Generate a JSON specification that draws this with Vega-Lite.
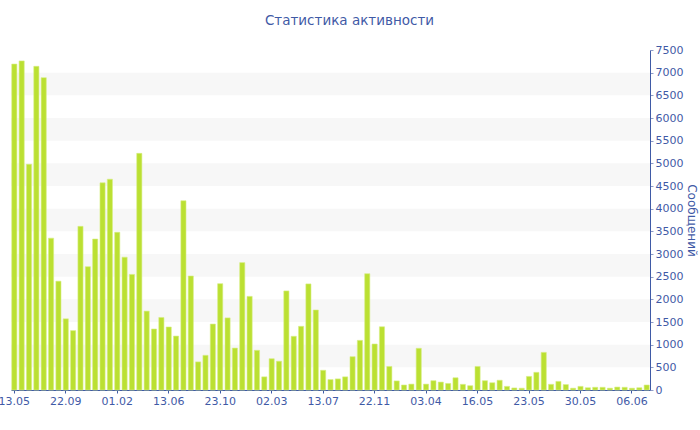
{
  "$schema": "https://vega.github.io/schema/vega-lite/v6.json",
  "width": 639,
  "height": 340,
  "autosize": {"type": "none"},
  "padding": {"left": 11, "top": 50, "right": 50, "bottom": 40},
  "background": "#ffffff",
  "config": {
    "view": {"stroke": null},
    "font": "DejaVu Sans"
  },
  "title": {
    "text": "Статистика активности",
    "font": "DejaVu Sans",
    "fontSize": 13.5,
    "fontWeight": "normal",
    "color": "#3f5aa6",
    "anchor": "middle",
    "dx": 19,
    "offset": 17
  },
  "datasets": {
    "bars": [
      {"i":0,"v":7190},{"i":1,"v":7260},{"i":2,"v":4980},{"i":3,"v":7140},{"i":4,"v":6890},
      {"i":5,"v":3350},{"i":6,"v":2400},{"i":7,"v":1570},{"i":8,"v":1310},{"i":9,"v":3610},
      {"i":10,"v":2720},{"i":11,"v":3330},{"i":12,"v":4570},{"i":13,"v":4650},{"i":14,"v":3480},
      {"i":15,"v":2930},{"i":16,"v":2550},{"i":17,"v":5220},{"i":18,"v":1740},{"i":19,"v":1345},
      {"i":20,"v":1600},{"i":21,"v":1390},{"i":22,"v":1190},{"i":23,"v":4175},{"i":24,"v":2515},
      {"i":25,"v":620},{"i":26,"v":765},{"i":27,"v":1455},{"i":28,"v":2345},{"i":29,"v":1590},
      {"i":30,"v":925},{"i":31,"v":2810},{"i":32,"v":2065},{"i":33,"v":875},{"i":34,"v":290},
      {"i":35,"v":690},{"i":36,"v":635},{"i":37,"v":2185},{"i":38,"v":1185},{"i":39,"v":1405},
      {"i":40,"v":2340},{"i":41,"v":1765},{"i":42,"v":435},{"i":43,"v":230},{"i":44,"v":245},
      {"i":45,"v":290},{"i":46,"v":735},{"i":47,"v":1095},{"i":48,"v":2565},{"i":49,"v":1015},
      {"i":50,"v":1395},{"i":51,"v":520},{"i":52,"v":200},{"i":53,"v":110},{"i":54,"v":130},
      {"i":55,"v":920},{"i":56,"v":130},{"i":57,"v":205},{"i":58,"v":175},{"i":59,"v":145},
      {"i":60,"v":270},{"i":61,"v":125},{"i":62,"v":95},{"i":63,"v":520},{"i":64,"v":205},
      {"i":65,"v":160},{"i":66,"v":215},{"i":67,"v":80},{"i":68,"v":45},{"i":69,"v":40},
      {"i":70,"v":300},{"i":71,"v":390},{"i":72,"v":830},{"i":73,"v":125},{"i":74,"v":190},
      {"i":75,"v":120},{"i":76,"v":40},{"i":77,"v":80},{"i":78,"v":50},{"i":79,"v":60},
      {"i":80,"v":60},{"i":81,"v":40},{"i":82,"v":65},{"i":83,"v":60},{"i":84,"v":40},
      {"i":85,"v":50},{"i":86,"v":110}
    ],
    "bands": [
      {"v":500,"v2":1000},{"v":1500,"v2":2000},{"v":2500,"v2":3000},{"v":3500,"v2":4000},
      {"v":4500,"v2":5000},{"v":5500,"v2":6000},{"v":6500,"v2":7000}
    ]
  },
  "encoding": {
    "y": {
      "field": "v",
      "type": "quantitative",
      "scale": {"domain": [0, 7500], "nice": false},
      "axis": {
        "orient": "right",
        "title": "Сообщений",
        "titleFont": "DejaVu Sans",
        "titleFontSize": 12,
        "titleFontWeight": "normal",
        "titleColor": "#3f5aa6",
        "titlePadding": 2,
        "values": [0,500,1000,1500,2000,2500,3000,3500,4000,4500,5000,5500,6000,6500,7000,7500],
        "format": "d",
        "labelFont": "DejaVu Sans",
        "labelFontSize": 11,
        "labelColor": "#3f5aa6",
        "labelPadding": 2,
        "labelFlush": false,
        "domainColor": "#3f5aa6",
        "tickColor": "#8f9cc8",
        "tickSize": 3,
        "grid": false,
        "labelOverlap": false
      }
    }
  },
  "layer": [
    {
      "data": {"name": "bands"},
      "mark": {"type": "rect", "color": "#f7f7f7"},
      "encoding": {
        "y2": {"field": "v2"}
      }
    },
    {
      "data": {"name": "bars"},
      "mark": {"type": "bar", "color": "#bbe032", "stroke": "#d6ef85", "strokeWidth": 0.6},
      "encoding": {
        "x": {
          "field": "i",
          "type": "ordinal",
          "scale": {"paddingInner": 0.3, "paddingOuter": 0.1},
          "axis": {
            "title": null,
            "values": [0,7,14,21,28,35,42,49,56,63,70,77,84],
            "labelExpr": "['13.05','22.09','01.02','13.06','23.10','02.03','13.07','22.11','03.04','16.05','23.05','30.05','06.06'][datum.value/7]",
            "labelAngle": 0,
            "labelFont": "DejaVu Sans",
            "labelFontSize": 11,
            "labelColor": "#3f5aa6",
            "labelPadding": 2,
            "domainColor": "#3f5aa6",
            "tickColor": "#3f5aa6",
            "tickSize": 3,
            "labelOverlap": false,
            "labelBound": false
          }
        }
      }
    }
  ]
}
